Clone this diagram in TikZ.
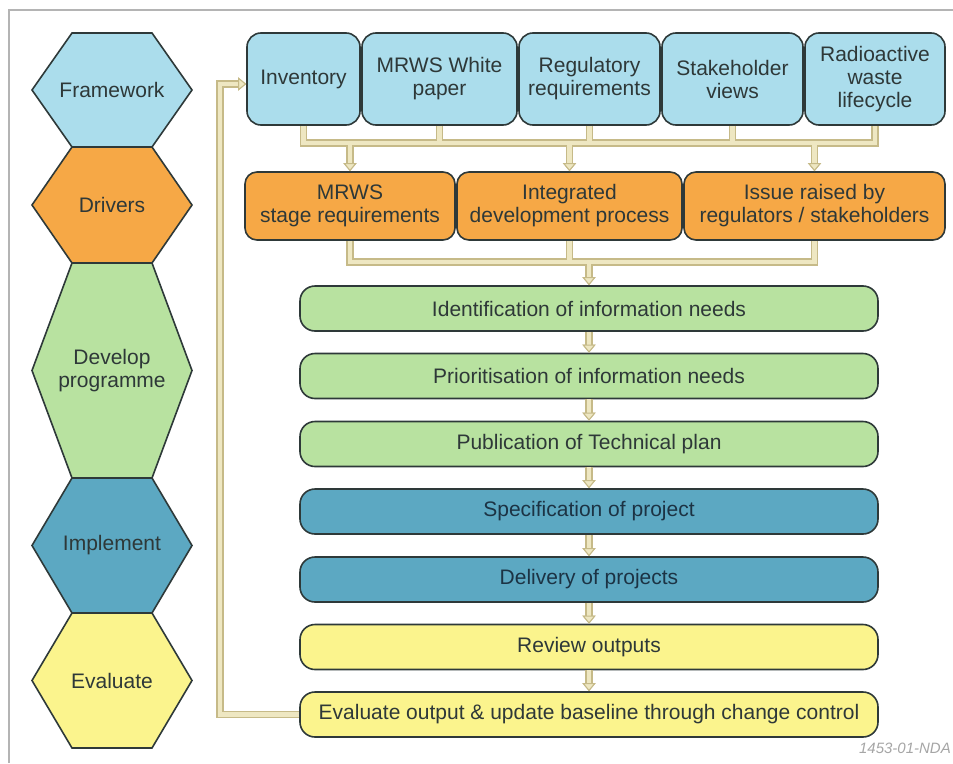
\documentclass[tikz,border=0pt]{standalone}
\usepackage{fontspec}
\setmainfont{Liberation Sans}
\usetikzlibrary{arrows.meta}
\definecolor{framecol}{HTML}{B4B4B4}
\definecolor{edgecol}{HTML}{2E3939}
\definecolor{txtcol}{HTML}{2E3838}
\definecolor{tealtxt}{HTML}{1C3344}
\definecolor{skyfill}{HTML}{ABDDEC}
\definecolor{orangefill}{HTML}{F6A846}
\definecolor{greenfill}{HTML}{B8E2A0}
\definecolor{tealfill}{HTML}{5CA8C2}
\definecolor{yellowfill}{HTML}{FBF48D}
\definecolor{pipeedge}{HTML}{C6BA88}
\definecolor{pipefill}{HTML}{EEE7C2}
\definecolor{marktxt}{HTML}{A6A6A6}
\newcommand\pipenet[1]{%
  \draw[#1] (inv.south) -- (inv.south |- busA) -- (rwl.south |- busA) -- (rwl.south);
  \draw[#1] (mrws.south) -- (mrws.south |- busA);
  \draw[#1] (reg.south) -- (reg.south |- busA);
  \draw[#1] (stk.south) -- (stk.south |- busA);
  \draw[#1,pipetip] (stage.north |- busA) -- (stage.north);
  \draw[#1,pipetip] (idp.north |- busA) -- (idp.north);
  \draw[#1,pipetip] (iss.north |- busA) -- (iss.north);
  \draw[#1] (stage.south) -- (stage.south |- busB) -- (iss.south |- busB) -- (iss.south);
  \draw[#1] (idp.south) -- (idp.south |- busB);
  \draw[#1,pipetip] (ident.north |- busB) -- (ident.north);
  \draw[#1,pipetip] (ident.south) -- (prior.north);
  \draw[#1,pipetip] (prior.south) -- (pub.north);
  \draw[#1,pipetip] (pub.south) -- (spec.north);
  \draw[#1,pipetip] (spec.south) -- (deliv.north);
  \draw[#1,pipetip] (deliv.south) -- (review.north);
  \draw[#1,pipetip] (review.south) -- (evalout.north);
  \draw[#1,pipetip] (evalout.west) -- (evalout.west -| loopX) -- (loopX |- loopY) -- (inv.west |- loopY);
}
\begin{document}
\begin{tikzpicture}[x=1pt,y=-1pt,
  basefont/.style={font=\fontsize{21}{23}\selectfont},
  box/.style={draw=edgecol, line width=1.6pt, rounded corners=14pt, align=center,
    text=txtcol, inner sep=0pt, basefont},
  topbox/.style={box, fill=skyfill, minimum height=92pt},
  drvbox/.style={box, fill=orangefill, minimum height=68pt, rounded corners=12pt},
  stepbar/.style={box, minimum width=578pt, minimum height=45pt, rounded corners=15pt},
  hexshape/.style={draw=edgecol, line width=1.6pt, line join=miter},
  hexlabel/.style={text=txtcol, align=center, basefont},
  pipeout/.style={draw=pipeedge, line width=7.5pt, line join=miter},
  pipein/.style={draw=pipefill, line width=4.5pt, line join=miter},
  pipetip/.style={-{Triangle[length=8pt,width=13pt,fill=pipefill,color=pipeedge,line width=1pt]}}
]
\useasboundingbox (0,0) rectangle (953,763);
\clip (0,0) rectangle (953,763);
\fill[white] (0,0) rectangle (953,763);
\draw[framecol, line width=1.2pt] (9,763) -- (9,10) -- (953,10);

% phase hexagons
\draw[hexshape, fill=skyfill] (72,33) -- (152,33) -- (192,90) -- (152,147) -- (72,147) -- (32,90) -- cycle;
\draw[hexshape, fill=orangefill] (72,147) -- (152,147) -- (192,205) -- (152,263) -- (72,263) -- (32,205) -- cycle;
\draw[hexshape, fill=greenfill] (72,263) -- (152,263) -- (192,370.5) -- (152,478) -- (72,478) -- (32,370.5) -- cycle;
\draw[hexshape, fill=tealfill] (72,478) -- (152,478) -- (192,545.5) -- (152,613) -- (72,613) -- (32,545.5) -- cycle;
\draw[hexshape, fill=yellowfill] (72,613) -- (152,613) -- (192,680.5) -- (152,748) -- (72,748) -- (32,680.5) -- cycle;
\node[hexlabel] (hfw) at (112,90) {Framework};
\node[hexlabel] (hdr) at (112,205) {Drivers};
\node[hexlabel] (hdp) at (112,370.5) {Develop\\programme};
\node[hexlabel] (him) at (112,545.5) {Implement};
\node[hexlabel] (hev) at (112,680.5) {Evaluate};

% framework boxes
\node[topbox, minimum width=113pt] (inv) at (303.5,79) {Inventory};
\node[topbox, minimum width=155pt] (mrws) at (439.5,79) {MRWS White\\paper};
\node[topbox, minimum width=141pt] (reg) at (589.5,79) {Regulatory\\requirements};
\node[topbox, minimum width=141pt] (stk) at (732.5,79) {Stakeholder\\views};
\node[topbox, minimum width=140pt] (rwl) at (875,79) {Radioactive\\waste\\lifecycle};

% drivers boxes
\node[drvbox, minimum width=210pt] (stage) at (350,206) {MRWS\\stage requirements};
\node[drvbox, minimum width=225pt] (idp) at (569.5,206) {Integrated\\development process};
\node[drvbox, minimum width=261pt] (iss) at (814.5,206) {Issue raised by\\regulators / stakeholders};

% process steps
\node[stepbar, fill=greenfill] (ident) at (589,308.5) {Identification of information needs};
\node[stepbar, fill=greenfill] (prior) at (589,376) {Prioritisation of information needs};
\node[stepbar, fill=greenfill] (pub) at (589,444) {Publication of Technical plan};
\node[stepbar, fill=tealfill, text=tealtxt] (spec) at (589,511.5) {Specification of project};
\node[stepbar, fill=tealfill, text=tealtxt] (deliv) at (589,579.5) {Delivery of projects};
\node[stepbar, fill=yellowfill] (review) at (589,647) {Review outputs};
\node[stepbar, fill=yellowfill] (evalout) at (589,714.5) {Evaluate output \& update baseline through change control};

% connector helpers
\coordinate (busA) at (0,143);
\coordinate (busB) at (0,262);
\coordinate (loopX) at (220,0);
\coordinate (loopY) at (0,84);

\pipenet{pipeout}
\pipenet{pipein}

\node[anchor=east, text=marktxt, font=\fontsize{15}{17}\selectfont\itshape, inner sep=0pt] (mark) at (951,748) {1453-01-NDA};
\end{tikzpicture}
\end{document}
